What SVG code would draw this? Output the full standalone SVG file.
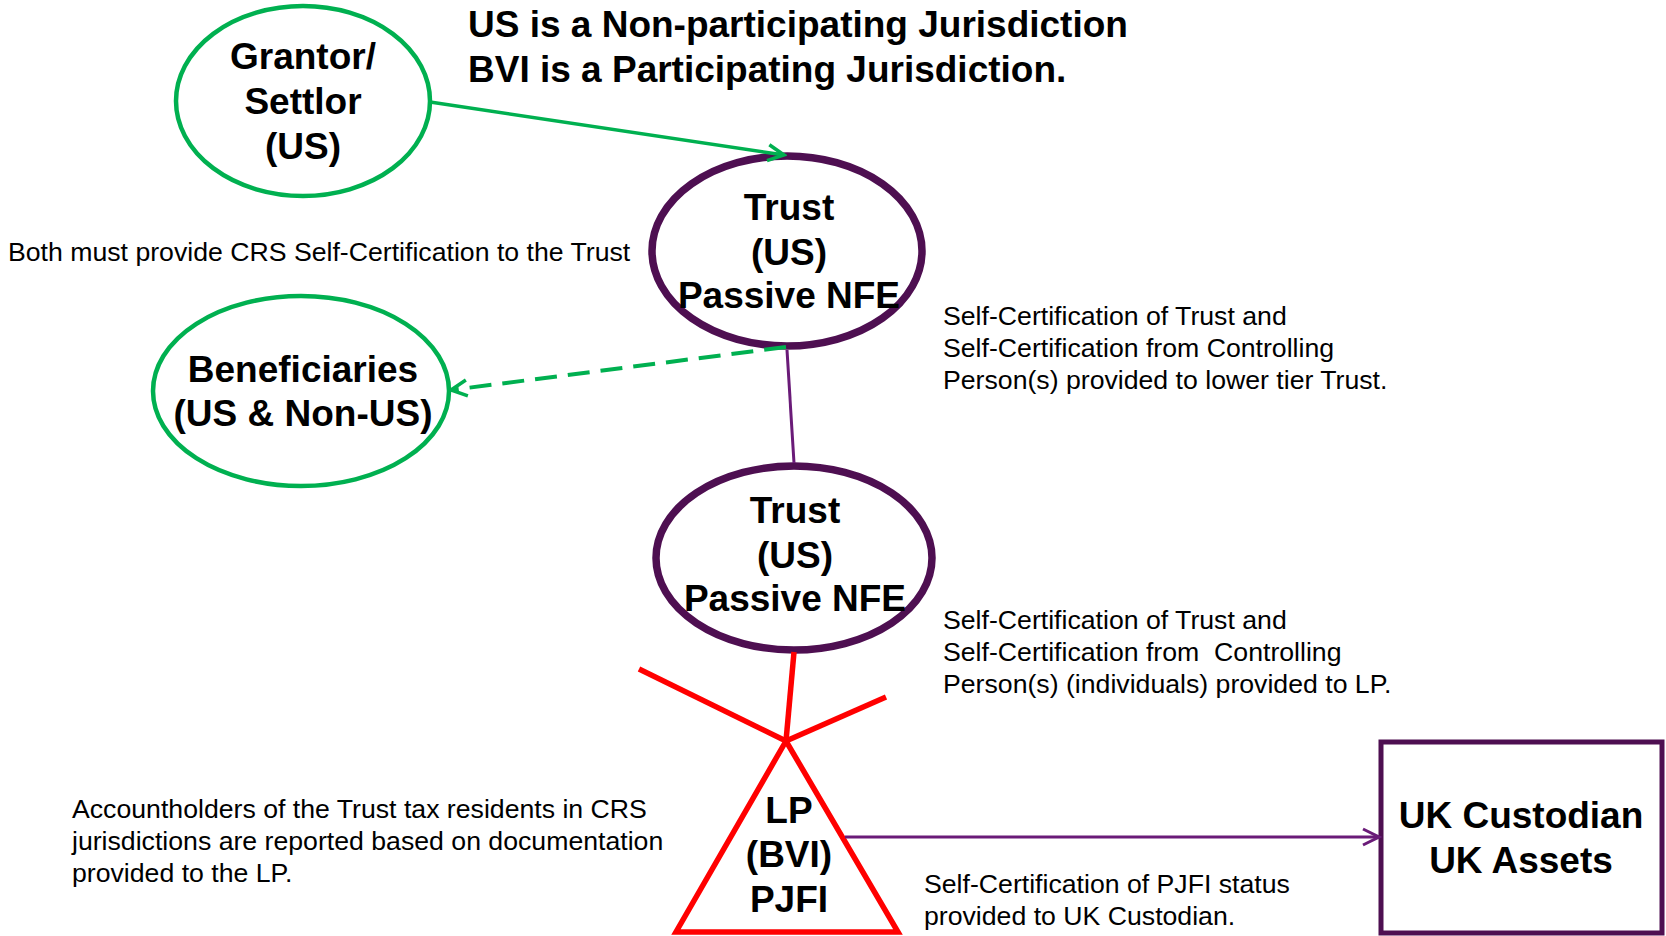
<svg xmlns="http://www.w3.org/2000/svg" width="1666" height="936" viewBox="0 0 1666 936">
<style>
.big{font-family:"Liberation Sans",Arial,sans-serif;font-weight:bold;font-size:37px;fill:#000;text-anchor:middle}
.title{font-family:"Liberation Sans",Arial,sans-serif;font-weight:bold;font-size:37px;fill:#000}
.small{font-family:"Liberation Sans",Arial,sans-serif;font-size:26.67px;fill:#000}
.green{fill:#fff;stroke:#00B050;stroke-width:4.5}
.purp{fill:#fff;stroke:#4E0F51;stroke-width:7.5}
</style>
<defs>
<marker id="ag" viewBox="0 0 24 24" refX="21" refY="12" markerWidth="24" markerHeight="24" markerUnits="userSpaceOnUse" orient="auto">
<path d="M5,4 L21,12 L5,20" fill="none" stroke="#00B050" stroke-width="3.5"/>
</marker>
<marker id="ap" viewBox="0 0 24 24" refX="21" refY="12" markerWidth="24" markerHeight="24" markerUnits="userSpaceOnUse" orient="auto">
<path d="M5,4 L21,12 L5,20" fill="none" stroke="#6A1B78" stroke-width="3"/>
</marker>
</defs>
<rect width="1666" height="936" fill="#fff"/>

<g id="title">
<text class="title" x="468" y="37">US is a Non-participating Jurisdiction</text>
<text class="title" x="468" y="82">BVI is a Participating Jurisdiction.</text>
</g>

<g id="grantor">
<ellipse class="green" cx="303" cy="101" rx="127" ry="95"/>
<text class="big" x="303" y="69">Grantor/</text>
<text class="big" x="303" y="114">Settlor</text>
<text class="big" x="303" y="159">(US)</text>
</g>

<g id="trust1">
<ellipse class="purp" cx="787" cy="251" rx="135" ry="95"/>
<text class="big" x="789" y="220">Trust</text>
<text class="big" x="789" y="265">(US)</text>
<text class="big" x="789" y="308">Passive NFE</text>
</g>

<g id="beneficiaries">
<ellipse class="green" cx="301" cy="391" rx="148" ry="95"/>
<text class="big" x="303" y="382">Beneficiaries</text>
<text class="big" x="303" y="426">(US &amp; Non-US)</text>
</g>

<g id="trust2">
<ellipse class="purp" cx="794" cy="558" rx="138" ry="92"/>
<text class="big" x="795" y="523">Trust</text>
<text class="big" x="795" y="568">(US)</text>
<text class="big" x="795" y="611">Passive NFE</text>
</g>

<g id="lp">
<polygon points="786,741 676,932 898,932" fill="#fff" stroke="#FF0000" stroke-width="5.5" stroke-linejoin="miter"/>
<text class="big" x="789" y="823">LP</text>
<text class="big" x="789" y="867">(BVI)</text>
<text class="big" x="789" y="912">PJFI</text>
</g>

<g id="ukcustodian">
<rect x="1381" y="742" width="281" height="191" fill="#fff" stroke="#4E0F51" stroke-width="5"/>
<text class="big" x="1521" y="828">UK Custodian</text>
<text class="big" x="1521" y="873">UK Assets</text>
</g>

<g id="connectors">
<line x1="430" y1="102" x2="784" y2="155" stroke="#00B050" stroke-width="3.5" marker-end="url(#ag)"/>
<line x1="786" y1="347" x2="451" y2="390" stroke="#00B050" stroke-width="4" stroke-dasharray="22,11" marker-end="url(#ag)"/>
<line x1="787" y1="350" x2="794" y2="463" stroke="#6A1B78" stroke-width="3"/>
<line x1="794" y1="652" x2="786" y2="741" stroke="#FF0000" stroke-width="5.5"/>
<line x1="639" y1="669" x2="786" y2="741" stroke="#FF0000" stroke-width="5.5"/>
<line x1="786" y1="741" x2="886" y2="697" stroke="#FF0000" stroke-width="5.5"/>
<line x1="845" y1="837" x2="1379" y2="837" stroke="#6A1B78" stroke-width="3" marker-end="url(#ap)"/>
</g>

<g id="notes">
<text class="small" x="8" y="261">Both must provide CRS Self-Certification to the Trust</text>
<text class="small" x="943" y="325">Self-Certification of Trust and</text>
<text class="small" x="943" y="357">Self-Certification from Controlling</text>
<text class="small" x="943" y="389">Person(s) provided to lower tier Trust.</text>
<text class="small" x="943" y="629">Self-Certification of Trust and</text>
<text class="small" x="943" y="661" xml:space="preserve">Self-Certification from  Controlling</text>
<text class="small" x="943" y="693">Person(s) (individuals) provided to LP.</text>
<text class="small" x="72" y="818">Accountholders of the Trust tax residents in CRS</text>
<text class="small" x="72" y="850">jurisdictions are reported based on documentation</text>
<text class="small" x="72" y="882">provided to the LP.</text>
<text class="small" x="924" y="893">Self-Certification of PJFI status</text>
<text class="small" x="924" y="925">provided to UK Custodian.</text>
</g>
</svg>
